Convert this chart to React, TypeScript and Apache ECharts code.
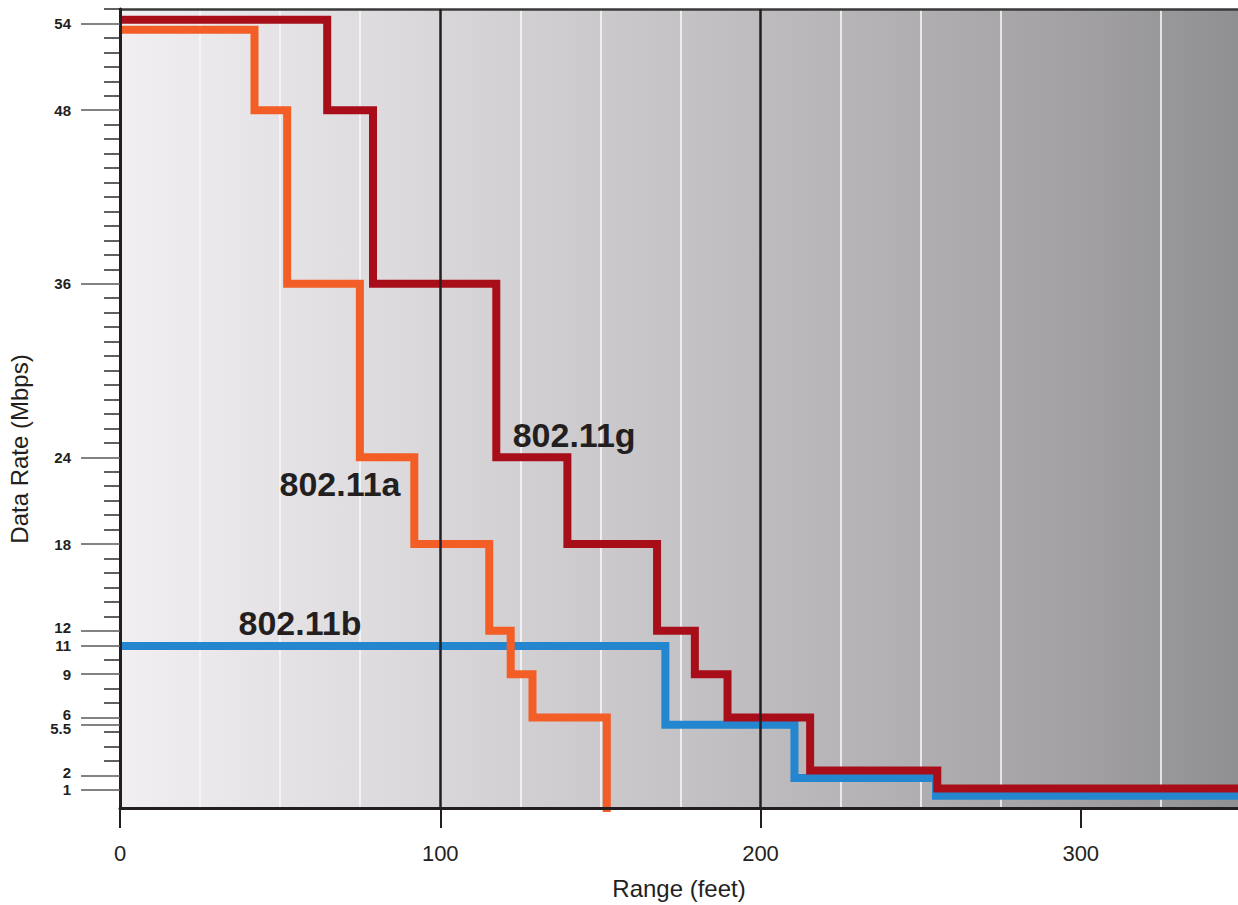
import React, { useEffect, useRef } from "react";
import * as echarts from "echarts";

// 802.11b step line (range in feet, data rate in Mbps as drawn)
const bRange = [0, 170.3, 210.6, 254.8, 349.1];
const bRate = [10.95, 5.5, 1.83, 0.59, 0.59];
// 802.11a step line
const aRange = [0, 42.0, 52.2, 74.9, 91.9, 115.3, 122.0, 128.8, 152.0];
const aRate = [53.57, 48, 36, 24, 18, 12, 9, 6, -1];
// 802.11g step line
const gRange = [0, 64.7, 79.0, 117.5, 139.7, 167.7, 179.5, 189.7, 215.5, 255.2, 349.1];
const gRate = [54.26, 48, 36, 24, 18, 12, 9, 6, 2.35, 1.1, 1.1];

const seriesNames = ["802.11b", "802.11a", "802.11g"];
const seriesColors = ["#2386cf", "#f25e25", "#a70e19"];
// label anchor positions in data units (range, rate)
const labelRange = [56.2, 68.7, 141.8];
const labelRate = [12.51, 22.17, 25.55];

const xLabels = [0, 100, 200, 300];
// labelled rate ticks, split in two groups so close neighbours are not auto-hidden
const yMajorA = [54, 48, 36, 24, 18, 12, 11, 9, 6, 5.5, 1];
const yMajorB = [2];
const yMajor = [...yMajorA, ...yMajorB];
const yAllInts = Array.from({ length: 53 }, (_, i) => i + 3);
const yMinor = yAllInts.filter((v) => !yMajor.includes(v));
// labels nudged apart where ticks are close
const yLabelUp = [12, 6, 2];
const yLabelDown = [5.5];

const X_MAX = 349.1;
const Y_MIN = -0.25;
const Y_MAX = 55;
const FONT = '"Liberation Sans", Arial, Helvetica, sans-serif';
const INK = "#231f20";

export default function App() {
  const ref = useRef<HTMLDivElement>(null);
  useEffect(() => {
    document.body.style.margin = "0";
    if (!ref.current) return;
    const chart = echarts.init(ref.current, undefined, { renderer: "svg" });
    const ranges = [bRange, aRange, gRange];
    const rates = [bRate, aRate, gRate];
    const series = seriesNames.map((name, s) => ({
      name,
      type: "line",
      step: "end",
      xAxisIndex: 0,
      yAxisIndex: 0,
      symbol: "none",
      clip: true,
      z: 2 + s,
      lineStyle: { width: 8, color: seriesColors[s], join: "miter", cap: "butt" },
      data: ranges[s].map((x, i) => [x, rates[s][i]]),
      markPoint: {
        symbol: "rect",
        symbolSize: 1,
        itemStyle: { color: "rgba(0,0,0,0)" },
        label: {
          show: true,
          position: "inside",
          formatter: name,
          fontFamily: FONT,
          fontWeight: "bold",
          fontSize: 34,
          color: INK,
        },
        data: [{ coord: [labelRange[s], labelRate[s]] }],
      },
    }));

    const yLabelStyle = {
      fontFamily: FONT,
      fontWeight: "bold",
      fontSize: 15,
      lineHeight: 12,
      color: INK,
    };

    const majorAxis = (values: number[], withLine: boolean) => ({
      type: "value",
      min: Y_MIN,
      max: Y_MAX,
      position: "left",
      z: 6,
      axisLine: { show: withLine, onZero: false, lineStyle: { color: INK, width: 3 } },
      axisTick: {
        show: true,
        customValues: values,
        length: 39,
        lineStyle: { color: "#5a5a5a", width: 1.5 },
      },
      axisLabel: {
        customValues: values,
        showMinLabel: true,
        showMaxLabel: true,
        hideOverlap: false,
        margin: 49,
        ...yLabelStyle,
        formatter: (v: number) =>
          yLabelUp.includes(v)
            ? `{up|${v}}`
            : yLabelDown.includes(v)
            ? `{dn|${v}}`
            : `${v}`,
        rich: {
          up: { ...yLabelStyle, padding: [0, 0, 6, 0] },
          dn: { ...yLabelStyle, padding: [7, 0, 0, 0] },
        },
      },
      splitLine: { show: false },
    });

    chart.setOption({
      animation: false,
      grid: {
        left: 120,
        right: 0,
        top: 9,
        bottom: 95,
        show: true,
        borderWidth: 0,
        backgroundColor: new echarts.graphic.LinearGradient(0, 0, 1, 0, [
          { offset: 0, color: "#f1eff2" },
          { offset: 0.29, color: "#d8d6d9" },
          { offset: 0.57, color: "#bebcbf" },
          { offset: 0.86, color: "#a2a0a2" },
          { offset: 1, color: "#908f91" },
        ]),
      },
      xAxis: [
        {
          type: "value",
          min: 0,
          max: X_MAX,
          interval: 100,
          position: "bottom",
          z: 6,
          axisLine: { show: true, onZero: false, lineStyle: { color: INK, width: 3 } },
          axisTick: {
            show: true,
            customValues: xLabels,
            length: 20,
            lineStyle: { color: INK, width: 2 },
          },
          axisLabel: {
            customValues: xLabels,
            showMinLabel: true,
            showMaxLabel: true,
            margin: 34,
            fontFamily: FONT,
            fontSize: 22,
            color: INK,
          },
          splitLine: {
            show: true,
            showMinLine: false,
            showMaxLine: false,
            lineStyle: { color: INK, width: 2.5 },
          },
          name: "Range (feet)",
          nameLocation: "middle",
          nameGap: 68,
          nameTextStyle: { fontFamily: FONT, fontSize: 24, color: INK },
        },
        {
          type: "value",
          min: 0,
          max: X_MAX,
          interval: 25,
          position: "top",
          z: 1,
          axisLine: { show: true, onZero: false, lineStyle: { color: "#3a3a3a", width: 2.5 } },
          axisTick: { show: false },
          axisLabel: { show: false },
          splitLine: {
            show: true,
            showMaxLine: false,
            lineStyle: {
              color: ["rgba(0,0,0,0)", "#f8f8f8", "#f8f8f8", "#f8f8f8"],
              width: 1.6,
            },
          },
        },
      ],
      yAxis: [
        majorAxis(yMajorA, true),
        majorAxis(yMajorB, false),
        {
          type: "value",
          min: Y_MIN,
          max: Y_MAX,
          position: "left",
          z: 5,
          axisLine: { show: false, onZero: false },
          axisTick: {
            show: true,
            customValues: yMinor,
            length: 16,
            lineStyle: { color: "#2b2b2b", width: 1.5 },
          },
          axisLabel: { show: false },
          splitLine: { show: false },
        },
      ],
      graphic: [
        {
          type: "text",
          x: 19,
          y: 449,
          rotation: Math.PI / 2,
          style: {
            text: "Data Rate (Mbps)",
            fontFamily: FONT,
            fontSize: 24,
            fill: INK,
            textAlign: "center",
            textVerticalAlign: "middle",
          },
        },
      ],
      series,
    });
    return () => chart.dispose();
  }, []);
  return <div ref={ref} style={{ width: 1238, height: 905 }} />;
}
